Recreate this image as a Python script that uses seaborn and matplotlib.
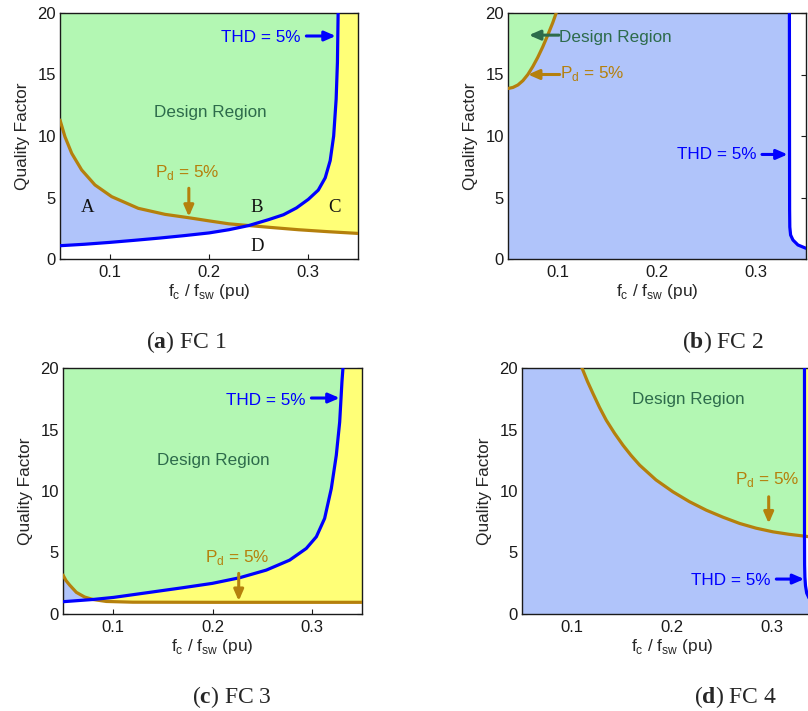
import matplotlib
matplotlib.use("Agg")
import matplotlib.pyplot as plt
import seaborn as sns
import pandas as pd

# ---- (a) FC 1 ----
thd1_x = [0.05, 0.075, 0.10, 0.125, 0.15, 0.175, 0.20, 0.22, 0.24, 0.26, 0.275,
          0.288, 0.30, 0.31, 0.317, 0.322, 0.3255, 0.328, 0.3293, 0.33]
thd1_q = [1.08, 1.2, 1.35, 1.52, 1.7, 1.9, 2.12, 2.38, 2.72, 3.2, 3.6,
          4.15, 4.85, 5.6, 6.6, 8.0, 10.0, 13.0, 16.0, 20.0]
pd1_x = [0.05, 0.055, 0.0618, 0.0718, 0.0852, 0.102, 0.1288, 0.1557, 0.1792,
         0.20, 0.22, 0.24, 0.26, 0.29, 0.32, 0.35]
pd1_q = [11.3, 9.94, 8.59, 7.24, 6.02, 5.07, 4.12, 3.63, 3.36,
         3.1, 2.86, 2.72, 2.58, 2.38, 2.22, 2.08]

# ---- (b) FC 2 ----
thd2_x = [0.3333, 0.3334, 0.3335, 0.3337, 0.3345, 0.3369, 0.3419, 0.35]
thd2_q = [20.0, 10.0, 4.0, 2.6, 1.95, 1.54, 1.14, 0.87]
pd2_x = [0.05, 0.055, 0.06, 0.065, 0.07, 0.075, 0.08, 0.085, 0.09, 0.095, 0.0985]
pd2_q = [13.86, 13.95, 14.15, 14.5, 15.0, 15.65, 16.4, 17.25, 18.2, 19.2, 20.0]

# ---- (c) FC 3 ----
thd3_x = [0.05, 0.08, 0.1008, 0.137, 0.1704, 0.1998, 0.2273, 0.254, 0.2774,
          0.2941, 0.3042, 0.3125, 0.3192, 0.3242, 0.3276, 0.3299, 0.3309]
thd3_q = [1.0, 1.18, 1.35, 1.76, 2.14, 2.49, 2.95, 3.57, 4.38,
          5.33, 6.28, 7.77, 10.2, 12.9, 15.6, 18.9, 20.0]
pd3_x = [0.05, 0.053, 0.0567, 0.0634, 0.0717, 0.08, 0.0935, 0.12, 0.20, 0.35]
pd3_q = [3.17, 2.72, 2.35, 1.76, 1.38, 1.18, 1.02, 0.96, 0.95, 0.95]

# ---- (d) FC 4 ----
thd4_x = [0.3325, 0.3325, 0.3325, 0.3326, 0.3329, 0.3335, 0.3347, 0.337, 0.341, 0.35]
thd4_q = [20.0, 10.0, 6.33, 4.0, 3.0, 2.3, 1.7, 1.3, 1.05, 0.8]
pd4_x = [0.11, 0.1155, 0.121, 0.1275, 0.1343, 0.1425, 0.151, 0.159, 0.1677, 0.184,
         0.201, 0.2175, 0.2343, 0.251, 0.2677, 0.284, 0.301, 0.317, 0.3325, 0.35]
pd4_q = [20.0, 18.9, 17.92, 16.8, 15.75, 14.7, 13.72, 12.9, 12.1, 10.9,
         9.93, 9.13, 8.44, 7.87, 7.36, 6.98, 6.68, 6.48, 6.33, 6.14]

xtick_vals = [0.1, 0.2, 0.3]
xtick_labels = ["0.1", "0.2", "0.3"]
ytick_vals = [0, 5, 10, 15, 20]
captions = ["a", "b", "c", "d"]

GREEN = "#b3f7b3"
BLUE_FILL = "#b0c4fa"
YELLOW = "#ffff77"
THD_C = "#0000ff"
PD_C = "#b5800c"
DR_C = "#2d6b4b"

sns.set_theme(style="ticks")
plt.rcParams["font.family"] = ["Liberation Sans", "DejaVu Sans"]
plt.rcParams["mathtext.fontset"] = "custom"
plt.rcParams["mathtext.rm"] = "Liberation Sans"
plt.rcParams["mathtext.bf"] = "Liberation Serif:bold"

PD_LABEL = r"P$_\mathrm{d}$ = 5%"


def pts(x, q):
    return list(zip(x, q))


def curve(ax, x, q, color):
    df = pd.DataFrame({"x": x, "q": q})
    sns.lineplot(data=df, x="x", y="q", sort=False, estimator=None,
                 color=color, lw=2.3, ax=ax, zorder=3)


def region(ax, verts, color):
    xs, ys = zip(*verts)
    ax.fill(xs, ys, color=color, lw=0, zorder=1)


def arrow(ax, tail, head, color):
    ax.annotate("", xy=head, xytext=tail, zorder=4,
                arrowprops=dict(arrowstyle="-|>,head_length=0.55,head_width=0.24",
                                color=color, lw=2.2, shrinkA=0, shrinkB=0,
                                mutation_scale=12))


def style(ax):
    ax.set_xlim(0.05, 0.35)
    ax.set_ylim(0, 20)
    ax.set_xticks(xtick_vals)
    ax.set_xticklabels(xtick_labels)
    ax.set_yticks(ytick_vals)
    ax.set_axisbelow(True)
    ax.set_facecolor("white")
    ax.tick_params(direction="in", top=True, right=True, length=3.5, width=0.8,
                   labelsize=12, colors="#1a1a1a")
    ax.tick_params(axis="x", pad=4)
    ax.tick_params(axis="y", pad=3)
    for s in ax.spines.values():
        s.set_color("#1a1a1a")
        s.set_linewidth(1.0)
    ax.set_xlabel(r"f$_\mathrm{c}$ / f$_\mathrm{sw}$ (pu)", fontsize=12.4, labelpad=2)
    ax.set_ylabel("Quality Factor", fontsize=12.4, labelpad=5)


fig = plt.figure(figsize=(8.08, 7.11), dpi=100)
W, H = 808, 711
ax_a = fig.add_axes([60 / W, 1 - 259 / H, 298 / W, 246 / H])
ax_b = fig.add_axes([508 / W, 1 - 259 / H, 298 / W, 246 / H])
ax_c = fig.add_axes([63 / W, 1 - 614 / H, 299 / W, 246 / H])
ax_d = fig.add_axes([522 / W, 1 - 614 / H, 300 / W, 246 / H])

# ---- (a) ----
ax = ax_a
t = pts(thd1_x, thd1_q)
p = pts(pd1_x, pd1_q)
it = thd1_x.index(0.24)
ip = pd1_x.index(0.24)
region(ax, p[:ip + 1] + t[:it + 1][::-1], BLUE_FILL)
region(ax, [(0.05, 20)] + p[:ip + 1] + t[it:], GREEN)
region(ax, t[it:] + [(0.35, 20)] + p[ip:][::-1], YELLOW)
curve(ax, pd1_x, pd1_q, PD_C)
curve(ax, thd1_x, thd1_q, THD_C)
ax.text(0.2924, 17.67, "THD = 5%", color=THD_C, fontsize=12.3, ha="right", va="baseline")
arrow(ax, (0.298, 18.13), (0.3276, 18.13), THD_C)
ax.text(0.2015, 11.57, "Design Region", color=DR_C, fontsize=12.3, ha="center", va="baseline")
ax.text(0.1455, 6.69, PD_LABEL, color=PD_C, fontsize=12.3, ha="left", va="baseline")
arrow(ax, (0.1797, 5.75), (0.1797, 3.44), PD_C)
for lab, lx, ly in [("A", 0.0778, 3.79), ("B", 0.2478, 3.79), ("C", 0.3259, 3.85), ("D", 0.2485, 0.68)]:
    ax.text(lx, ly, lab, family="Liberation Serif", fontsize=13.5, ha="center",
            va="baseline", color="#111111")

# ---- (b) ----
ax = ax_b
t = pts(thd2_x, thd2_q)
p = pts(pd2_x, pd2_q)
region(ax, [(0.05, 0), (0.05, 20)] + t + [(0.35, 0)], BLUE_FILL)
region(ax, [(0.05, 20)] + p, GREEN)
curve(ax, pd2_x, pd2_q, PD_C)
curve(ax, thd2_x, thd2_q, THD_C)
ax.text(0.1013, 17.65, "Design Region", color=DR_C, fontsize=12.3, ha="left", va="baseline")
arrow(ax, (0.1013, 18.2), (0.0711, 18.2), DR_C)
ax.text(0.102, 14.7, PD_LABEL, color=PD_C, fontsize=12.3, ha="left", va="baseline")
arrow(ax, (0.102, 15.0), (0.0701, 15.0), PD_C)
ax.text(0.3000, 8.1, "THD = 5%", color=THD_C, fontsize=12.3, ha="right", va="baseline")
arrow(ax, (0.3057, 8.5), (0.3315, 8.5), THD_C)

# ---- (c) ----
ax = ax_c
t = pts(thd3_x, thd3_q)
p = pts(pd3_x, pd3_q)
it = thd3_x.index(0.08)
ip = pd3_x.index(0.08)
region(ax, p[:ip + 1] + t[:it + 1][::-1], BLUE_FILL)
region(ax, [(0.05, 20)] + p[:ip + 1] + t[it:], GREEN)
region(ax, t[it:] + [(0.35, 20)] + p[ip:][::-1], YELLOW)
curve(ax, pd3_x, pd3_q, PD_C)
curve(ax, thd3_x, thd3_q, THD_C)
ax.text(0.2935, 17.02, "THD = 5%", color=THD_C, fontsize=12.3, ha="right", va="baseline")
arrow(ax, (0.2992, 17.56), (0.3276, 17.56), THD_C)
ax.text(0.2012, 12.1, "Design Region", color=DR_C, fontsize=12.3, ha="center", va="baseline")
ax.text(0.1921, 4.19, PD_LABEL, color=PD_C, fontsize=12.3, ha="left", va="baseline")
arrow(ax, (0.2263, 3.3), (0.2263, 1.06), PD_C)

# ---- (d) ----
ax = ax_d
t = pts(thd4_x, thd4_q)
p = pts(pd4_x, pd4_q)
it = thd4_q.index(6.33)
ip = pd4_q.index(6.33)
region(ax, [(0.05, 0), (0.05, 20)] + p[:ip + 1] + t[it:] + [(0.35, 0)], BLUE_FILL)
region(ax, p[:ip + 1] + t[:it + 1][::-1], GREEN)
region(ax, t[:it + 1] + p[ip:] + [(0.35, 20)], YELLOW)
curve(ax, pd4_x, pd4_q, PD_C)
curve(ax, thd4_x, thd4_q, THD_C)
ax.text(0.216, 17.1, "Design Region", color=DR_C, fontsize=12.3, ha="center", va="baseline")
ax.text(0.2627, 10.53, PD_LABEL, color=PD_C, fontsize=12.3, ha="left", va="baseline")
arrow(ax, (0.2967, 9.53), (0.2967, 7.36), PD_C)
ax.text(0.2987, 2.35, "THD = 5%", color=THD_C, fontsize=12.3, ha="right", va="baseline")
arrow(ax, (0.3043, 2.84), (0.3322, 2.84), THD_C)

for ax in (ax_a, ax_b, ax_c, ax_d):
    style(ax)

cap_pos = [(186, 348), (723, 348), (232, 703), (736, 703)]
for letter, (cx, cy), num in zip(captions, cap_pos, [1, 2, 3, 4]):
    fig.text(cx / W, 1 - cy / H, r"($\mathbf{%s}$) FC %d" % (letter, num),
             family="Liberation Serif", fontsize=17, ha="center", va="baseline")

fig.savefig("out.png", dpi=100)
